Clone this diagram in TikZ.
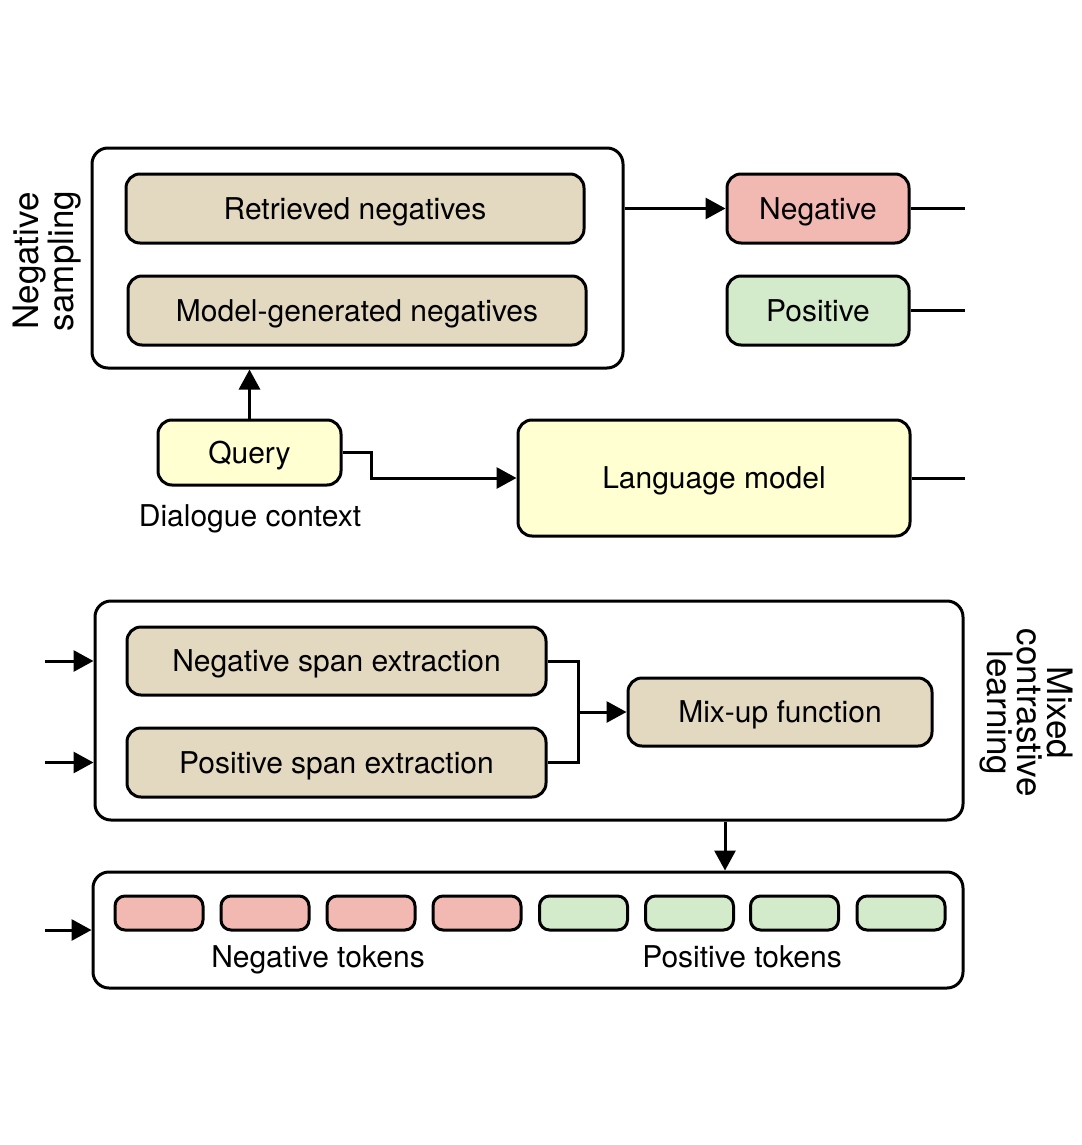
\documentclass[tikz,border=0pt]{standalone}
\usepackage{fontspec}
\setmainfont{TeX Gyre Heros}
\usetikzlibrary{arrows.meta}
\definecolor{tanfill}{HTML}{E3D9C1}
\definecolor{negfill}{HTML}{F2B8B2}
\definecolor{posfill}{HTML}{D4EBCB}
\definecolor{yelfill}{HTML}{FFFFD2}
\begin{document}
\begin{tikzpicture}[x=1pt,y=-1pt,line width=3pt,
  box/.style={draw,rounded corners=14pt,inner sep=0pt,text height=21.5pt,text depth=0pt,font=\fontsize{30}{36}\selectfont},
  outer/.style={draw,rounded corners=16pt,inner sep=0pt},
  tokbox/.style={draw,rounded corners=10pt,inner sep=0pt,minimum width=88pt,minimum height=34pt},
  lbl/.style={font=\fontsize{30}{36}\selectfont,inner sep=0pt,text height=21.5pt,text depth=0pt},
  vlbl/.style={font=\fontsize{35}{30}\selectfont,align=center,inner sep=0pt},
  arr/.style={-{Triangle[length=20pt,width=21pt]}}]
\useasboundingbox (0,0) rectangle (1081,1145);

% top group
\node[outer,minimum width=531pt,minimum height=220pt] (ns) at (357.5,258) {};
\node[box,fill=tanfill,minimum width=458pt,minimum height=69pt] (rn) at (355,208.5) {Retrieved negatives};
\node[box,fill=tanfill,minimum width=458pt,minimum height=69pt] (mg) at (357,310.5) {Model-generated negatives};
\node[vlbl,rotate=90] (nslbl) at (47,261) {Negative\\sampling};

\node[box,fill=negfill,minimum width=182pt,minimum height=69pt] (neg) at (818,208.5) {Negative};
\node[box,fill=posfill,minimum width=182pt,minimum height=69pt] (pos) at (818,310.5) {Positive};

\node[box,fill=yelfill,minimum width=183pt,minimum height=65pt] (query) at (249.5,452.5) {Query};
\node[lbl] (dc) at (250,516) {Dialogue context};
\node[box,fill=yelfill,minimum width=392pt,minimum height=116pt] (lm) at (714,478) {Language model};

\coordinate (negout) at (965,208.5);
\coordinate (posout) at (965,310.5);
\coordinate (lmout) at (965,478);

\draw[arr] (ns.east |- neg.west) -- (neg.west);
\draw (neg.east) -- (negout);
\draw (pos.east) -- (posout);
\draw (lm.east) -- (lmout);
\draw[arr] (query.north) -- (query.north |- ns.south);
\draw[arr] (query.east) -- ++(29,0) |- (lm.west);

% mixed contrastive learning
\node[outer,minimum width=868pt,minimum height=219pt] (mcl) at (529,710.5) {};
\node[box,fill=tanfill,minimum width=419pt,minimum height=68pt] (nse) at (336.5,661) {Negative span extraction};
\node[box,fill=tanfill,minimum width=419pt,minimum height=69pt] (pse) at (336.5,762.5) {Positive span extraction};
\node[box,fill=tanfill,minimum width=304pt,minimum height=68pt] (mix) at (780,712) {Mix-up function};
\node[vlbl,rotate=-90] (mcllbl) at (1026,713) {Mixed\\contrastive\\learning};

\coordinate (jn) at (578,712);
\draw (nse.east) -| (jn) |- (pse.east);
\draw[arr] (jn) -- (mix.west);

\coordinate (in1) at (45,661);
\coordinate (in2) at (45,762.5);
\coordinate (in3) at (45,930);
\draw[arr] (in1) -- (mcl.west |- in1);
\draw[arr] (in2) -- (mcl.west |- in2);

% tokens
\node[outer,minimum width=870pt,minimum height=116pt] (tok) at (528,930) {};
\draw[arr] (in3) -- (tok.west);
\coordinate (dx) at (725,0);
\draw[arr] (mcl.south -| dx) -- (tok.north -| dx);

\node[tokbox,fill=negfill] (t1) at (159,913) {};
\node[tokbox,fill=negfill] (t2) at (265,913) {};
\node[tokbox,fill=negfill] (t3) at (371,913) {};
\node[tokbox,fill=negfill] (t4) at (477,913) {};
\node[tokbox,fill=posfill] (t5) at (583.5,913) {};
\node[tokbox,fill=posfill] (t6) at (689.5,913) {};
\node[tokbox,fill=posfill] (t7) at (794.5,913) {};
\node[tokbox,fill=posfill] (t8) at (901,913) {};
\node[lbl] (negtok) at (318,957) {Negative tokens};
\node[lbl] (postok) at (742,957) {Positive tokens};
\end{tikzpicture}
\end{document}
